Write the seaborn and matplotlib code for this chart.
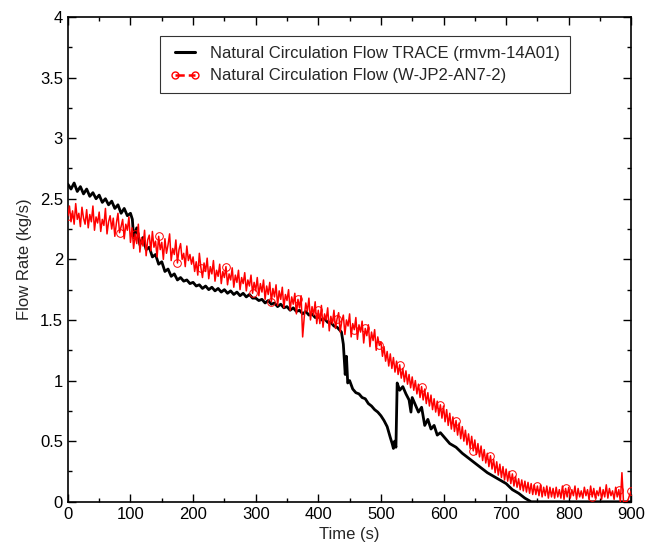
import numpy as np
import pandas as pd
import matplotlib
matplotlib.use("Agg")
import matplotlib.pyplot as plt
from matplotlib.lines import Line2D
import seaborn as sns

# ---- data (flow rate in kg/s) ----
# W-JP2-AN7-2 test data, sampled every 2.5 s from 0 to 900 s
red_time = [i * 2.5 for i in range(361)]
red_flow = [
    # 0 - 97.5 s
    2.36, 2.44, 2.31, 2.40, 2.29, 2.46, 2.33, 2.38, 2.27, 2.43, 2.34, 2.29, 2.41, 2.26, 2.37, 2.31, 2.44, 2.24, 2.35, 2.30,
    2.39, 2.23, 2.33, 2.28, 2.42, 2.21, 2.31, 2.36, 2.25, 2.34, 2.19, 2.30, 2.38, 2.22, 2.27, 2.33, 2.17, 2.29, 2.24, 2.35,
    # 100 - 197.5 s
    2.14, 2.26, 2.09, 2.21, 2.13, 2.29, 2.06, 2.18, 2.11, 2.24, 2.03, 2.16, 2.20, 2.07, 2.23, 2.10, 2.15, 2.02, 2.19, 2.08,
    2.14, 2.00, 2.17, 2.05, 2.12, 2.21, 1.99, 2.09, 2.04, 2.16, 1.97, 2.08, 2.13, 2.00, 2.05, 1.94, 2.11, 1.99, 2.04, 1.96,
    # 200 - 297.5 s
    2.02, 1.90, 1.98, 1.87, 2.05, 1.93, 1.85, 1.97, 1.90, 2.01, 1.84, 1.94, 1.88, 1.99, 1.82, 1.91, 1.86, 1.96, 1.80, 1.90,
    1.85, 1.94, 1.79, 1.88, 1.83, 1.93, 1.77, 1.87, 1.81, 1.91, 1.75, 1.85, 1.80, 1.89, 1.74, 1.83, 1.78, 1.87, 1.72, 1.81,
    # 300 - 397.5 s
    1.74, 1.85, 1.70, 1.80, 1.73, 1.83, 1.67, 1.78, 1.71, 1.81, 1.65, 1.76, 1.69, 1.79, 1.62, 1.74, 1.67, 1.77, 1.60, 1.71,
    1.66, 1.75, 1.58, 1.69, 1.63, 1.72, 1.55, 1.67, 1.60, 1.70, 1.36, 1.52, 1.64, 1.57, 1.68, 1.50, 1.61, 1.54, 1.65, 1.47,
    # 400 - 497.5 s
    1.58, 1.47, 1.62, 1.44, 1.55, 1.50, 1.60, 1.41, 1.53, 1.47, 1.58, 1.43, 1.51, 1.56, 1.40, 1.49, 1.54, 1.38, 1.50, 1.45,
    1.55, 1.36, 1.47, 1.42, 1.52, 1.34, 1.46, 1.40, 1.49, 1.31, 1.43, 1.37, 1.46, 1.28, 1.40, 1.33, 1.42, 1.25, 1.36, 1.29,
    # 500 - 597.5 s
    1.32, 1.20, 1.28, 1.16, 1.24, 1.12, 1.22, 1.10, 1.19, 1.07, 1.16, 1.05, 1.13, 1.02, 1.10, 0.99, 1.08, 0.97, 1.05, 0.94,
    1.03, 0.92, 1.00, 0.89, 0.97, 0.86, 0.95, 0.84, 0.93, 0.81, 0.90, 0.79, 0.88, 0.76, 0.85, 0.74, 0.83, 0.71, 0.80, 0.69,
    # 600 - 697.5 s
    0.79, 0.66, 0.76, 0.63, 0.73, 0.60, 0.70, 0.58, 0.67, 0.55, 0.65, 0.52, 0.62, 0.50, 0.59, 0.47, 0.56, 0.44, 0.54, 0.42,
    0.51, 0.39, 0.48, 0.37, 0.46, 0.34, 0.43, 0.32, 0.40, 0.29, 0.38, 0.27, 0.35, 0.24, 0.33, 0.22, 0.31, 0.20, 0.29, 0.18,
    # 700 - 797.5 s
    0.27, 0.17, 0.25, 0.15, 0.23, 0.13, 0.21, 0.12, 0.19, 0.10, 0.18, 0.09, 0.17, 0.08, 0.16, 0.07, 0.15, 0.06, 0.14, 0.06,
    0.13, 0.05, 0.14, 0.04, 0.12, 0.05, 0.13, 0.03, 0.12, 0.04, 0.11, 0.03, 0.12, 0.04, 0.10, 0.03, 0.13, 0.02, 0.11, 0.04,
    # 800 - 897.5 s
    0.12, 0.03, 0.10, 0.05, 0.13, 0.02, 0.11, 0.04, 0.09, 0.03, 0.12, 0.05, 0.10, 0.02, 0.13, 0.04, 0.11, 0.03, 0.09, 0.05,
    0.12, 0.02, 0.10, 0.04, 0.14, 0.03, 0.11, 0.05, 0.09, 0.02, 0.12, 0.04, 0.10, 0.00, 0.24, 0.00, 0.00, 0.00, 0.02, 0.06,
    # 900 s
    0.09,
]
# samples that carry an open-circle marker
red_marker_idx = [0, 33, 43, 58, 70, 85, 101, 118, 130, 147, 160, 172, 183, 190, 199,
                  212, 226, 238, 248, 259, 270, 284, 300, 318, 335, 352, 360]

# TRACE rmvm-14A01 calculation
black_time = [
    0, 5, 10, 15, 20, 25, 30, 35, 40, 45, 50, 55, 60, 65, 70, 75, 80, 85, 90, 95,
    100, 103, 105, 110, 115, 120, 125, 130, 135, 140, 145, 150, 155, 160, 165, 170, 175, 180, 185, 190, 195,
    200, 205, 210, 215, 220, 225, 230, 235, 240, 245, 250, 255, 260, 265, 270, 275, 280, 285, 290, 295,
    300, 305, 310, 315, 320, 325, 330, 335, 340, 345, 350, 355, 360, 365, 370, 375, 380, 385, 390, 395,
    400, 405, 410, 415, 420, 425, 430, 437, 440, 443, 445, 447, 450,
    455, 460, 465, 470, 475, 480, 485, 490, 495, 500, 505, 510, 515, 518, 520, 522, 524, 526,
    530, 535, 540, 545, 548, 550, 555, 560, 565, 570, 575, 580, 585, 590, 595,
    600, 610, 620, 630, 640, 650, 660, 670, 680, 690, 700, 710, 720, 730, 740, 800, 900,
]
black_flow = [
    2.62, 2.58, 2.63, 2.56, 2.60, 2.54, 2.58, 2.52, 2.55, 2.50, 2.53, 2.47, 2.50, 2.45, 2.48, 2.42, 2.45, 2.38, 2.42, 2.36,
    2.38, 2.33, 2.18, 2.26, 2.12, 2.18, 2.08, 2.10, 2.02, 2.04, 1.96, 1.98, 1.90, 1.92, 1.86, 1.88, 1.83, 1.85, 1.82, 1.83, 1.80,
    1.81, 1.78, 1.79, 1.76, 1.78, 1.75, 1.77, 1.74, 1.76, 1.73, 1.75, 1.72, 1.74, 1.71, 1.73, 1.70, 1.72, 1.69, 1.71, 1.68,
    1.68, 1.66, 1.67, 1.64, 1.66, 1.63, 1.64, 1.61, 1.63, 1.60, 1.61, 1.58, 1.60, 1.57, 1.58, 1.55, 1.57, 1.54, 1.55, 1.52,
    1.53, 1.50, 1.51, 1.48, 1.48, 1.45, 1.44, 1.40, 1.30, 1.05, 1.20, 0.98, 1.00,
    0.93, 0.90, 0.89, 0.86, 0.85, 0.81, 0.79, 0.76, 0.74, 0.71, 0.67, 0.62, 0.53, 0.48, 0.44, 0.50, 0.45, 0.98,
    0.92, 0.95, 0.89, 0.84, 0.74, 0.86, 0.80, 0.74, 0.78, 0.63, 0.68, 0.60, 0.63, 0.55, 0.57,
    0.54, 0.48, 0.45, 0.40, 0.36, 0.32, 0.28, 0.24, 0.21, 0.18, 0.15, 0.10, 0.07, 0.03, 0.00, 0.00, 0.00,
]

label_trace = "Natural Circulation Flow TRACE (rmvm-14A01)"
label_test = "Natural Circulation Flow (W-JP2-AN7-2)"

red_df = pd.DataFrame({"Time": red_time, "Flow": red_flow})
black_df = pd.DataFrame({"Time": black_time, "Flow": black_flow})

sns.set_style("ticks")
plt.rcParams["font.family"] = ["Liberation Sans", "DejaVu Sans"]

fig = plt.figure(figsize=(6.59, 5.46), dpi=100)
ax = fig.add_axes([0.103, 0.081, 0.855, 0.888])

sns.lineplot(data=black_df, x="Time", y="Flow", color="black", lw=2.0,
             estimator=None, sort=False, ax=ax, zorder=2)
sns.lineplot(data=red_df, x="Time", y="Flow", color="red", lw=1.1,
             marker="o", markevery=red_marker_idx, markersize=5.5, markerfacecolor="none",
             markeredgecolor="red", markeredgewidth=0.7,
             estimator=None, sort=False, ax=ax, zorder=3)

ax.set_xlim(0, 900)
ax.set_ylim(0, 4)
ax.set_xticks(np.arange(0, 901, 100))
ax.set_xticks(np.arange(0, 901, 50), minor=True)
ax.set_yticks(np.arange(0, 4.01, 0.5))
ax.set_yticks(np.arange(0, 4.01, 0.25), minor=True)
ax.set_yticklabels(["0", "0.5", "1", "1.5", "2", "2.5", "3", "3.5", "4"])
ax.tick_params(which="both", direction="in", top=True, right=True, labelsize=12, colors="black")
ax.tick_params(which="major", length=6, width=1)
ax.tick_params(which="minor", length=3, width=1)
for s in ax.spines.values():
    s.set_linewidth(1.2)
    s.set_color("black")

ax.set_xlabel("Time (s)", fontsize=12, labelpad=4)
ax.set_ylabel("Flow Rate (kg/s)", fontsize=12, labelpad=6)

handles = [
    Line2D([], [], color="black", lw=2.2),
    Line2D([], [], color="red", lw=1.8, ls="--", marker="o", markersize=5,
           markerfacecolor="none", markeredgecolor="red"),
]
leg = ax.legend(handles, [label_trace, label_test], loc="upper left",
                bbox_to_anchor=(0.163, 0.961), borderaxespad=0, fontsize=12, numpoints=2,
                handlelength=1.8, frameon=True, fancybox=False,
                borderpad=0.6, labelspacing=0.45, handletextpad=0.6)
leg.get_frame().set_edgecolor("black")
leg.get_frame().set_linewidth(0.8)

fig.savefig("out.png", dpi=100)
